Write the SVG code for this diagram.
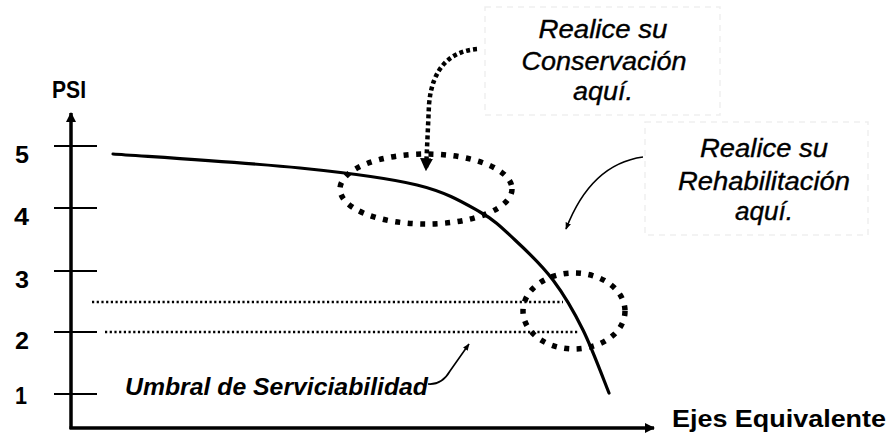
<svg xmlns="http://www.w3.org/2000/svg" width="887" height="435" viewBox="0 0 887 435">
<style>
.num{font-family:"Liberation Sans",Arial,sans-serif;font-weight:bold;font-size:24px;fill:#000}
.cap{font-family:"Liberation Sans",Arial,sans-serif;font-style:italic;font-size:25px;fill:#000;stroke:#000;stroke-width:0.35}
.ax{stroke:#000;stroke-width:3.5;fill:none}
.tick{stroke:#000;stroke-width:2;fill:none}
.thr{stroke:#000;stroke-width:2.5;stroke-dasharray:2.2 2.5;fill:none}
.oval{stroke:#000;stroke-width:5.5;stroke-dasharray:5 7.5;fill:none}
.box{stroke:#efefef;stroke-width:1.5;stroke-dasharray:6 5;fill:none}
</style>
<defs>
<marker id="ah" viewBox="0 0 10 10" refX="9" refY="5" markerWidth="10" markerHeight="10" markerUnits="userSpaceOnUse" orient="auto"><path d="M0,0 L10,5 L0,10 Z" fill="#000"/></marker>
<marker id="ahs" viewBox="0 0 10 10" refX="9" refY="5" markerWidth="7" markerHeight="7" markerUnits="userSpaceOnUse" orient="auto"><path d="M0,1 L10,5 L0,9 Z" fill="#000"/></marker>
<marker id="ahb" viewBox="0 0 10 10" refX="9" refY="5" markerWidth="13" markerHeight="13" markerUnits="userSpaceOnUse" orient="auto"><path d="M0,0 L10,5 L0,10 Z" fill="#000"/></marker>
</defs>
<rect width="887" height="435" fill="#fff"/>

<g id="text-boxes">
<rect class="box" x="485" y="7" width="235" height="108"/>
<rect class="box" x="645" y="122" width="223" height="113"/>
</g>

<g id="axes">
<line class="ax" x1="71" y1="429" x2="71" y2="113" marker-end="url(#ah)"/>
<line class="ax" x1="69.5" y1="428" x2="654" y2="428" marker-end="url(#ah)"/>
<text class="num" x="52" y="98" textLength="34" lengthAdjust="spacingAndGlyphs">PSI</text>
<text class="num" x="672" y="427" textLength="214" lengthAdjust="spacingAndGlyphs">Ejes Equivalente</text>
</g>

<g id="ticks">
<line class="tick" x1="54" y1="146" x2="97" y2="146"/>
<line class="tick" x1="54" y1="208" x2="97" y2="208"/>
<line class="tick" x1="54" y1="271" x2="97" y2="271"/>
<line class="tick" x1="54" y1="332" x2="97" y2="332"/>
<line class="tick" x1="54" y1="394" x2="97" y2="394"/>
<text class="num" x="15" y="163" textLength="14" lengthAdjust="spacingAndGlyphs">5</text>
<text class="num" x="14" y="225" textLength="15" lengthAdjust="spacingAndGlyphs">4</text>
<text class="num" x="15" y="288" textLength="14" lengthAdjust="spacingAndGlyphs">3</text>
<text class="num" x="15" y="349" textLength="14" lengthAdjust="spacingAndGlyphs">2</text>
<text class="num" x="15" y="404" textLength="12" lengthAdjust="spacingAndGlyphs">1</text>
</g>

<g id="curve">
<path d="M113,154 C144.2,156.3 249.3,162.8 300,168 C350.7,173.2 387,177.7 417,185 C447,192.3 463.7,202.8 480,212 C496.3,221.2 502.8,228.7 515,240 C527.2,251.3 541.7,265 553,280 C564.3,295 573.7,311.2 583,330 C592.3,348.8 604.7,382.5 609,393" stroke="#000" stroke-width="3.2" fill="none" stroke-linecap="round"/>
</g>

<g id="threshold-lines">
<line class="thr" x1="92" y1="302" x2="563" y2="302"/>
<line class="thr" x1="105" y1="332" x2="578" y2="332"/>
</g>

<g id="conservation-zone">
<ellipse class="oval" cx="426" cy="189" rx="86" ry="35"/>
</g>

<g id="rehabilitation-zone">
<ellipse class="oval" cx="574" cy="311" rx="51" ry="38" stroke-width="6"/>
</g>

<g id="conservation-label">
<text class="cap" x="603" y="38" text-anchor="middle" textLength="129" lengthAdjust="spacingAndGlyphs">Realice su</text>
<text class="cap" x="604" y="70" text-anchor="middle" textLength="165" lengthAdjust="spacingAndGlyphs">Conservación</text>
<text class="cap" x="603" y="100" text-anchor="middle" textLength="60" lengthAdjust="spacingAndGlyphs">aquí.</text>
</g>

<g id="rehabilitation-label">
<text class="cap" x="764" y="157" text-anchor="middle" textLength="128" lengthAdjust="spacingAndGlyphs">Realice su</text>
<text class="cap" x="764" y="190" text-anchor="middle" textLength="172" lengthAdjust="spacingAndGlyphs">Rehabilitación</text>
<text class="cap" x="764" y="220" text-anchor="middle" textLength="58" lengthAdjust="spacingAndGlyphs">aquí.</text>
</g>

<g id="threshold-label">
<text class="num" x="125" y="395" font-style="italic" textLength="303" lengthAdjust="spacingAndGlyphs">Umbral de Serviciabilidad</text>
</g>

<g id="connectors">
<path d="M477,49 C452,51 432,66 429,105 L426,170" stroke="#000" stroke-width="4.5" stroke-dasharray="4 3" fill="none" marker-end="url(#ahb)"/>
<path d="M643,157 C606,162 581,190 566,229" stroke="#000" stroke-width="1.6" fill="none" marker-end="url(#ahs)"/>
<path d="M428,384 C440,385 446,378 450,371 L469,344" stroke="#000" stroke-width="1.6" fill="none" marker-end="url(#ahs)"/>
</g>
</svg>
